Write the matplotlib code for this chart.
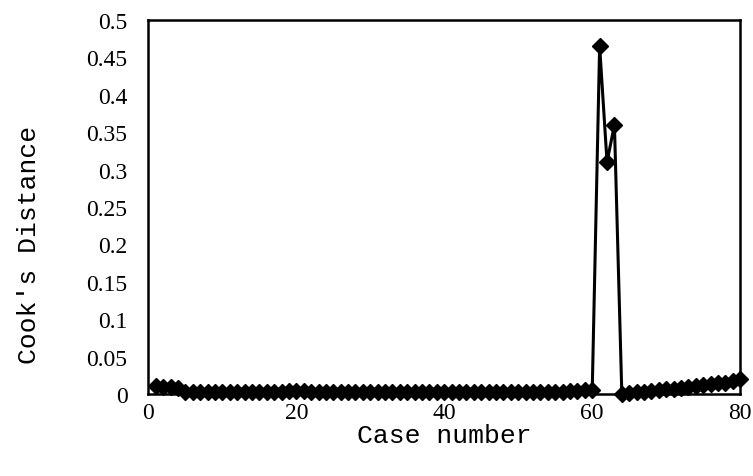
import matplotlib
matplotlib.use('Agg')
import matplotlib.pyplot as plt

# Cook's distance for each case
cases = list(range(1, 81))
cooks_d = [
    0.010, 0.009, 0.009, 0.008, 0.003, 0.002, 0.002, 0.002, 0.002, 0.002,
    0.002, 0.002, 0.002, 0.002, 0.002, 0.002, 0.003, 0.003, 0.004, 0.004,
    0.004, 0.003, 0.003, 0.003, 0.002, 0.002, 0.002, 0.002, 0.002, 0.002,
    0.002, 0.002, 0.002, 0.002, 0.002, 0.003, 0.003, 0.003, 0.003, 0.003,
    0.003, 0.003, 0.003, 0.002, 0.002, 0.002, 0.002, 0.002, 0.002, 0.002,
    0.002, 0.002, 0.002, 0.003, 0.003, 0.003, 0.004, 0.004, 0.005, 0.005,
    0.465, 0.310, 0.360, 0.000, 0.001, 0.002, 0.003, 0.004, 0.005, 0.006,
    0.007, 0.008, 0.009, 0.010, 0.012, 0.013, 0.014, 0.015, 0.017, 0.020,
]
y_ticks = [0, 0.05, 0.1, 0.15, 0.2, 0.25, 0.3, 0.35, 0.4, 0.45, 0.5]
y_tick_labels = ['0', '0.05', '0.1', '0.15', '0.2', '0.25', '0.3', '0.35', '0.4', '0.45', '0.5']
x_ticks = [0, 20, 40, 60, 80]

plt.rcParams['font.family'] = ['Liberation Serif', 'DejaVu Serif']

fig = plt.figure(figsize=(7.53, 4.77), dpi=100)
ax = fig.add_axes([0.197, 0.172, 0.786, 0.784])

ax.plot(cases, cooks_d, color='black', linewidth=2.2, marker='D',
        markersize=8.5, markerfacecolor='black', markeredgecolor='black',
        clip_on=False, zorder=3)

ax.set_xlim(0, 80)
ax.set_ylim(0, 0.5)
ax.set_xticks(x_ticks)
ax.set_yticks(y_ticks)
ax.set_yticklabels(y_tick_labels)
ax.tick_params(axis='both', length=0, labelsize=17)
ax.tick_params(axis='x', pad=6)
ax.tick_params(axis='y', pad=15)

for side in ['left', 'right', 'top', 'bottom']:
    ax.spines[side].set_linewidth(1.8)
    ax.spines[side].set_color('black')

ax.set_xlabel('Case number', fontsize=19, family=['Liberation Mono', 'DejaVu Sans Mono'], labelpad=0)
ax.set_ylabel("Cook's Distance", fontsize=19, family=['Liberation Mono', 'DejaVu Sans Mono'])
# label sits a bit below the middle of the axis in the original
ax.yaxis.set_label_coords(-0.181, 0.40)

fig.savefig('out.png', dpi=100)
